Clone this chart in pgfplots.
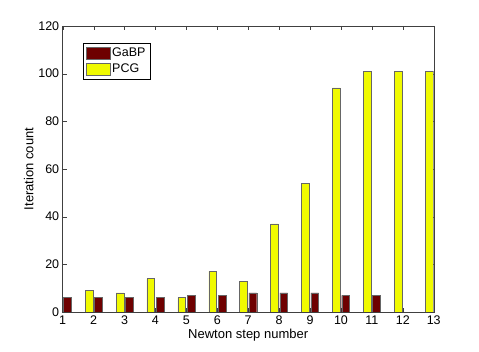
\documentclass[border=0pt]{standalone}
\usepackage{fontspec}
\setmainfont{Liberation Sans}
\usepackage{pgfplots}
\pgfplotsset{compat=1.18}
\definecolor{gabp}{RGB}{110,0,0}
\definecolor{pcg}{RGB}{240,250,0}
\begin{document}
\begin{tikzpicture}
\begin{axis}[
    at={(0pt,0pt)}, anchor=south west,
    scale only axis, width=371pt, height=286pt,
    xmin=1, xmax=13, ymin=0, ymax=120,
    xtick={1,...,13}, ytick={0,20,...,120},
    tick align=inside, major tick length=4pt,
    axis line style={black!75}, tick style={black!75},
    /pgf/number format/assume math mode=true,
    tick label style={font=\fontsize{12.5}{14}\selectfont},
    label style={font=\fontsize{13}{15}\selectfont},
    xlabel style={yshift=2pt},
    ylabel style={yshift=-2pt},
    xlabel={Newton step number},
    ylabel={Iteration count},
    legend style={at={(0.055,0.94)}, anchor=north west, draw=black,
        font=\fontsize{12.5}{14}\selectfont, inner sep=2.5pt, row sep=2pt},
    legend cell align=left,
]
% GaBP
\addplot[ybar, bar width=0.25, bar shift=0.15, fill=gabp, draw=black!60,
    legend image code/.code={\draw[fill=gabp, draw=black!60] (0pt,-6pt) rectangle (24pt,6pt);}]
    coordinates {(1,6)(2,6)(3,6)(4,6)(5,7)(6,7)(7,8)(8,8)(9,8)(10,7)(11,7)};
\addlegendentry{GaBP}
% PCG
\addplot[ybar, bar width=0.25, bar shift=-0.15, fill=pcg, draw=black!60,
    legend image code/.code={\draw[fill=pcg, draw=black!60] (0pt,-6pt) rectangle (24pt,6pt);}]
    coordinates {(2,9)(3,8)(4,14)(5,6)(6,17)(7,13)(8,37)(9,54)(10,94)(11,101)(12,101)(13,101)};
\addlegendentry{PCG}
\end{axis}
\path[use as bounding box] (-62.7pt,-40pt) rectangle (416.3pt,312pt);
\end{tikzpicture}
\end{document}
